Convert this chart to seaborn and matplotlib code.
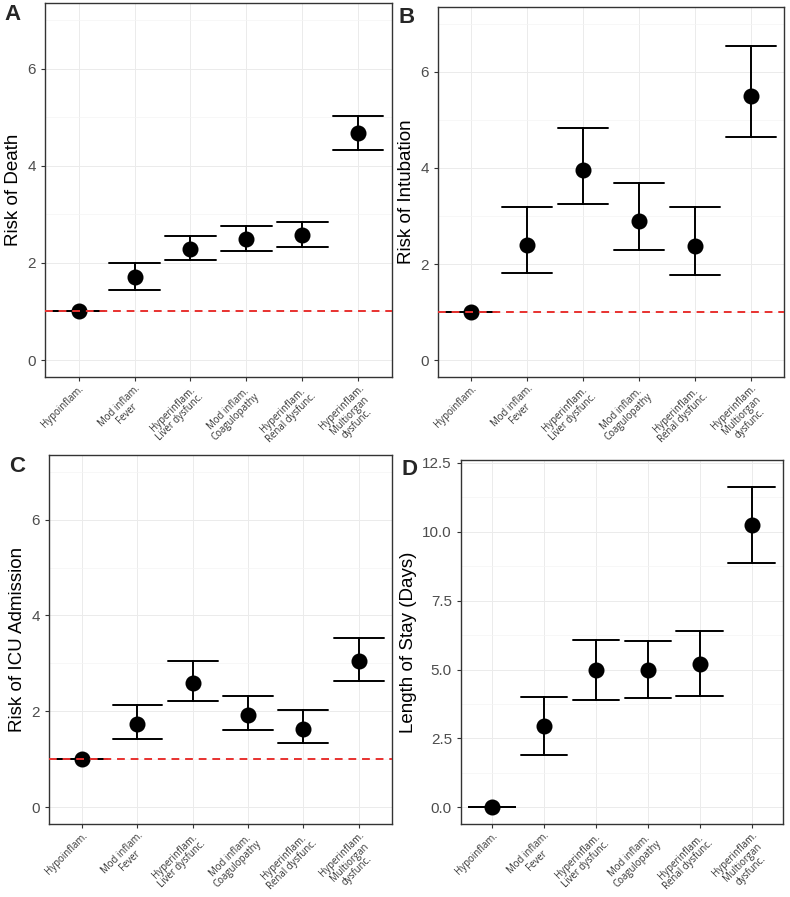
import pandas as pd
import seaborn as sns
import matplotlib.pyplot as plt

categories = ["Hypoinflam.", "Mod inflam.\nFever", "Hyperinflam.\nLiver dysfunc.",
              "Mod inflam.\nCoagulopathy", "Hyperinflam.\nRenal dysfunc.",
              "Hyperinflam.\nMultiorgan\ndysfunc."]

death_est = [1.0, 1.70, 2.29, 2.49, 2.58, 4.68]
death_lo = [1.0, 1.44, 2.05, 2.24, 2.33, 4.33]
death_hi = [1.0, 2.00, 2.56, 2.76, 2.84, 5.03]

intub_est = [1.0, 2.40, 3.96, 2.90, 2.38, 5.50]
intub_lo = [1.0, 1.82, 3.25, 2.30, 1.77, 4.64]
intub_hi = [1.0, 3.18, 4.84, 3.68, 3.18, 6.54]

icu_est = [1.0, 1.74, 2.60, 1.92, 1.64, 3.06]
icu_lo = [1.0, 1.43, 2.22, 1.62, 1.33, 2.63]
icu_hi = [1.0, 2.13, 3.06, 2.32, 2.03, 3.53]

los_est = [0.0, 2.95, 4.98, 5.00, 5.22, 10.24]
los_lo = [0.0, 1.90, 3.89, 3.96, 4.04, 8.88]
los_hi = [0.0, 4.02, 6.06, 6.04, 6.41, 11.63]

sns.set_theme(style="white")
plt.rcParams['font.family'] = ['Liberation Sans', 'DejaVu Sans']

fig = plt.figure(figsize=(7.9, 8.97), dpi=100)

panels = [
    ("A", "Risk of Death", death_est, death_lo, death_hi, [0.057, 0.5797, 0.439, 0.417], (-0.35, 7.35), [0, 2, 4, 6], True, (4, 877)),
    ("B", "Risk of Intubation", intub_est, intub_lo, intub_hi, [0.554, 0.5797, 0.439, 0.4125], (-0.35, 7.35), [0, 2, 4, 6], True, (399, 874)),
    ("C", "Risk of ICU Admission", icu_est, icu_lo, icu_hi, [0.062, 0.0815, 0.434, 0.4113], (-0.35, 7.35), [0, 2, 4, 6], True, (9, 425)),
    ("D", "Length of Stay (Days)", los_est, los_lo, los_hi, [0.5835, 0.0815, 0.4076, 0.4055], (-0.6, 12.6), [0, 2.5, 5, 7.5, 10, 12.5], False, (401, 422)),
]

for letter, ylabel, est, lo, hi, pos, ylim, yticks, refline, lpos in panels:
    ax = fig.add_axes(pos)
    # three rows per group: median gives estimate, full range gives the CI
    df = pd.DataFrame({
        "group": categories * 3,
        "value": lo + est + hi,
    })
    sns.pointplot(data=df, x="group", y="value", order=categories,
                  estimator="median", errorbar=("pi", 100), capsize=0.9,
                  color="black", linestyle="none", markersize=9.5,
                  err_kws={"linewidth": 1.4}, ax=ax)
    if refline:
        ax.axhline(1, color="#E8312F", linestyle=(0, (4, 3)), linewidth=1.4, zorder=10)

    ax.set_xlim(-0.6, 5.6)
    ax.set_ylim(*ylim)
    ax.set_yticks(yticks)
    if letter == "D":
        ax.set_yticklabels(["0.0", "2.5", "5.0", "7.5", "10.0", "12.5"])
        ax.set_yticks([1.25, 3.75, 6.25, 8.75, 11.25], minor=True)
    else:
        ax.set_yticks([1, 3, 5, 7], minor=True)
    ax.set_xticks(range(len(categories)))
    ax.set_xticklabels(categories, rotation=45, ha="right", va="top",
                       rotation_mode="anchor", multialignment="center",
                       fontsize=6.9, color="#333333", linespacing=1.0,
                       family=["Open Sans", "DejaVu Sans"])
    ax.grid(True, which="major", color="#EBEBEB", linewidth=0.7)
    ax.grid(True, which="minor", axis="y", color="#F4F4F4", linewidth=0.5)
    ax.set_axisbelow(True)
    ax.tick_params(axis="both", which="major", length=3, width=0.8, color="#333333",
                   bottom=True, left=True)
    ax.tick_params(axis="x", pad=1.5)
    ax.tick_params(axis="y", labelsize=11, labelcolor="#4D4D4D")
    ax.tick_params(which="minor", length=0)
    for s in ax.spines.values():
        s.set_color("#333333")
        s.set_linewidth(1.0)
    ax.set_xlabel("")
    ax.set_ylabel(ylabel, fontsize=13.5, color="black")
    fig.text(lpos[0] / 790, lpos[1] / 897, letter, fontsize=16, fontweight="bold",
             ha="left", va="baseline")

fig.savefig("out.png", dpi=100)
